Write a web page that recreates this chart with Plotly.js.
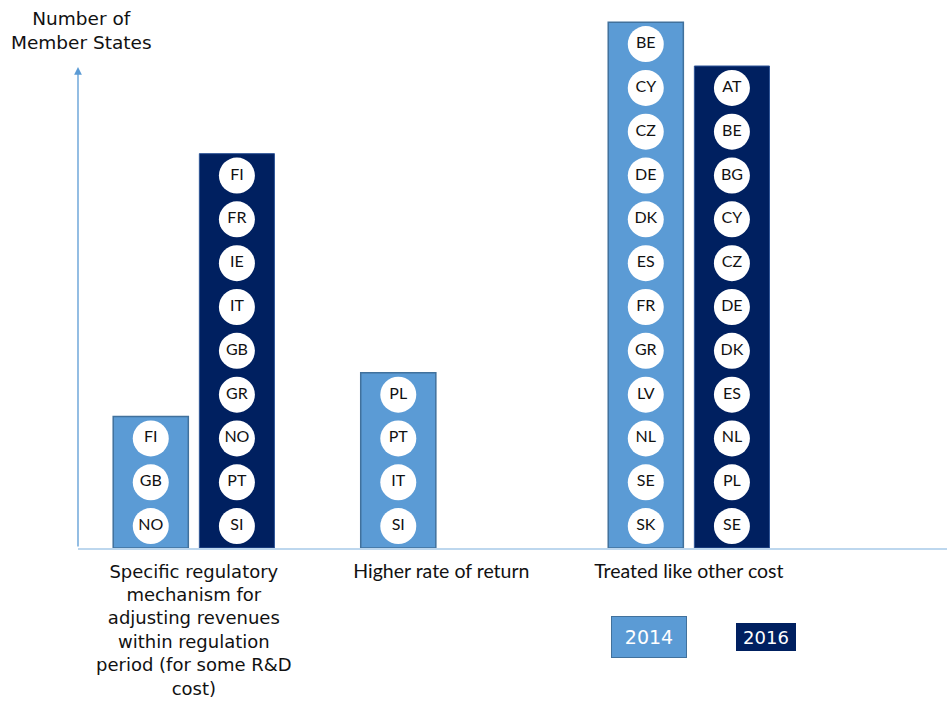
<!DOCTYPE html>
<html>
<head>
<meta charset="utf-8">
<script src="https://cdn.plot.ly/plotly-3.0.1.min.js"></script>
<style>html,body{margin:0;padding:0;background:#fff;}#chart{width:947px;height:711px;}</style>
</head>
<body>
<div id="chart"></div>
<script>
// ---- data ----
var categories = ["specific", "higher", "treated"];
var categoryLabels = [
  "Specific regulatory<br>mechanism for<br>adjusting revenues<br>within regulation<br>period (for some R&D<br>cost)",
  "<span style=\"font-family:Lato;font-size:19.5px\">Higher rate of return</span>",
  "<span style=\"font-family:Lato;font-size:19.5px\">Treated like other cost</span>"
];
var years = ["2014", "2016"];
var values2014 = [3, 4, 12];
var values2016 = [9, 0, 11];
var countries2014 = [
  ["FI", "GB", "NO"],
  ["PL", "PT", "IT", "SI"],
  ["BE", "CY", "CZ", "DE", "DK", "ES", "FR", "GR", "LV", "NL", "SE", "SK"]
];
var countries2016 = [
  ["FI", "FR", "IE", "IT", "GB", "GR", "NO", "PT", "SI"],
  [],
  ["AT", "BE", "BG", "CY", "CZ", "DE", "DK", "ES", "NL", "PL", "SE"]
];

// ---- styles ----
var color2014 = "#5B9BD5", edge2014 = "#41719C";
var color2016 = "#002060", edge2016 = "#2F5597";
var axisColor = "#BDD7EE";

function labelPoints(countries) {
  var xs = [], ys = [], ts = [];
  countries.forEach(function (list, ci) {
    list.forEach(function (c, j) {
      xs.push(categories[ci]);
      ys.push(list.length - j - 0.5);
      ts.push(c);
    });
  });
  return {x: xs, y: ys, text: ts};
}
function edgeWidths(values, w) {
  return values.map(function (v) { return v > 0 ? w : 0; });
}
var p14 = labelPoints(countries2014);
var p16 = labelPoints(countries2016);

var traces = [
  {type: "bar", name: years[0], x: categories, y: values2014, offsetgroup: "a",
   marker: {color: color2014, line: {color: edge2014, width: edgeWidths(values2014, 1.5)}}, hoverinfo: "skip"},
  {type: "bar", name: years[1], x: categories, y: values2016, offsetgroup: "b",
   marker: {color: color2016, line: {color: edge2016, width: edgeWidths(values2016, 1)}}, hoverinfo: "skip"},
  {type: "scatter", mode: "markers+text", name: years[0] + " countries", x: p14.x, y: p14.y, text: p14.text,
   offsetgroup: "a", textposition: "middle center",
   marker: {size: 36, color: "#ffffff", line: {width: 0}},
   textfont: {family: "Lato", size: 16, color: "#111111"}, hoverinfo: "skip"},
  {type: "scatter", mode: "markers+text", name: years[1] + " countries", x: p16.x, y: p16.y, text: p16.text,
   offsetgroup: "b", textposition: "middle center",
   marker: {size: 36, color: "#ffffff", line: {width: 0}},
   textfont: {family: "Lato", size: 16, color: "#111111"}, hoverinfo: "skip"}
];

var layout = {
  width: 947, height: 711,
  margin: {l: 78, r: 0, t: 20, b: 163},
  paper_bgcolor: "#ffffff", plot_bgcolor: "#ffffff",
  showlegend: false,
  barmode: "group", bargap: 0.304, bargroupgap: 0.128,
  scattermode: "group", scattergap: 0.304,
  font: {family: "DejaVu Sans", color: "#111111"},
  xaxis: {type: "category", range: [-0.468, 3.043], tickvals: categories, ticktext: categoryLabels,
          showline: true, linecolor: axisColor, linewidth: 2, showgrid: false, zeroline: false,
          ticks: "", ticklabelstandoff: 6,
          tickfont: {family: "DejaVu Sans", size: 18, color: "#111111"}, fixedrange: true},
  yaxis: {range: [0, 12.05], showline: false, showgrid: false, zeroline: false, showticklabels: false,
          ticks: "", fixedrange: true},
  annotations: [
    {xref: "paper", yref: "paper", x: 0.0035, y: 1.027, xanchor: "center", yanchor: "top",
     text: "Number of<br>Member States", showarrow: false, align: "center",
     font: {family: "DejaVu Sans", size: 18.5, color: "#111111"}},
    {xref: "paper", yref: "paper", x: 0, y: 0.911, ax: 0, ay: 0, axref: "paper", ayref: "paper",
     showarrow: true, arrowhead: 2, arrowsize: 1.2, arrowwidth: 1.3, arrowcolor: color2014, text: ""},
    {xref: "paper", yref: "paper", x: 0.657, y: -0.1686, xanchor: "center", yanchor: "middle",
     text: years[0], showarrow: false,
     bgcolor: color2014, bordercolor: edge2014, borderwidth: 1, width: 72, height: 38,
     font: {family: "DejaVu Sans", size: 19, color: "#ffffff"}},
    {xref: "paper", yref: "paper", x: 0.792, y: -0.1686, xanchor: "center", yanchor: "middle",
     text: years[1], showarrow: false,
     bgcolor: color2016, borderwidth: 0, width: 58, height: 26,
     font: {family: "DejaVu Sans", size: 18, color: "#ffffff"}}
  ]
};

Plotly.newPlot("chart", traces, layout, {displayModeBar: false, staticPlot: true});
</script>
</body>
</html>
